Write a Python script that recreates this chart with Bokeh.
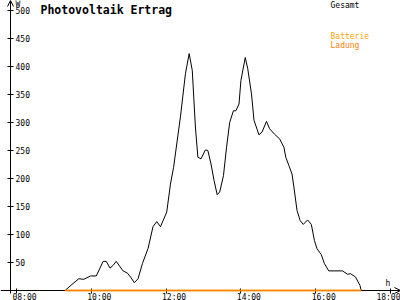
from bokeh.plotting import figure
from bokeh.models import Range1d, LinearAxis, FixedTicker, Arrow, OpenHead, Label
from bokeh.embed import file_html
from bokeh.resources import INLINE

# ---- data ----
times = ["09:18", "09:27", "09:40", "09:48", "09:59", "10:08", "10:19", "10:24", "10:30", "10:35",
         "10:40", "10:51", "10:58", "11:03", "11:09", "11:15", "11:22", "11:31", "11:39", "11:45",
         "11:51", "12:01", "12:07", "12:12", "12:23", "12:31", "12:37", "12:42", "12:47", "12:51",
         "12:56", "13:03", "13:07", "13:12", "13:17", "13:22", "13:26", "13:32", "13:37", "13:42",
         "13:48", "13:52", "13:57", "14:00", "14:07", "14:11", "14:17", "14:21", "14:29", "14:34",
         "14:41", "14:46", "14:54", "15:02", "15:09", "15:12", "15:17", "15:22", "15:25", "15:30",
         "15:35", "15:40", "15:47", "15:53", "15:58", "16:02", "16:09", "16:14", "16:21", "16:43",
         "16:51", "16:56", "17:04", "17:11", "17:13"]
gesamt = [0, 9, 21, 20, 26, 26, 52, 52, 40, 45,
          52, 35, 31, 24, 14, 21, 48, 75, 114, 123,
          114, 140, 190, 220, 310, 387, 423, 393, 292, 238,
          235, 251, 250, 226, 196, 171, 176, 205, 256, 300,
          321, 321, 333, 375, 416, 396, 351, 304, 278, 283,
          302, 289, 279, 271, 256, 238, 223, 208, 185, 143,
          125, 118, 126, 118, 89, 75, 64, 48, 35, 35,
          29, 30, 24, 9, 0]
batt_times = ["09:18", "17:13"]
batterie = [0, 0]
ladung = [0, 0]
x_ticks = [8, 10, 12, 14, 16, 18]
x_tick_labels = ["08:00", "10:00", "12:00", "14:00", "16:00", "18:00"]
y_ticks = [50, 100, 150, 200, 250, 300, 350, 400, 450, 500]


def hours(t):
    h, m = t.split(":")
    return int(h) + int(m) / 60.0


PX_PER_H = 37.4
PX_PER_W = 0.56
X0 = 8 - 16 / PX_PER_H
X1 = 8 + 384 / PX_PER_H
Y1 = 290 / PX_PER_W
Y0 = -10 / PX_PER_W
YAX = X0 + 10 / PX_PER_H
SHIFT = 8 / PX_PER_H

MONO = "DejaVu Sans Mono"

p = figure(width=400, height=300, x_range=Range1d(X0, X1), y_range=Range1d(Y0, Y1),
           toolbar_location=None, output_backend="svg", min_border=0,
           x_axis_location=None, y_axis_location=None, outline_line_color=None,
           background_fill_color="white", border_fill_color="white")
p.xgrid.grid_line_color = None
p.ygrid.grid_line_color = None

# y axis (labels to the right of the line)
yax = LinearAxis(fixed_location=YAX, ticker=FixedTicker(ticks=y_ticks), bounds=(-5.4, Y1),
                 major_tick_in=3, major_tick_out=3, minor_tick_in=0, minor_tick_out=0,
                 major_label_standoff=2, major_label_text_font=MONO,
                 major_label_text_font_size="8px", major_label_text_color="black",
                 axis_line_color="black", major_tick_line_color="black")
p.add_layout(yax, "right")

# x axis line and ticks
xax = LinearAxis(fixed_location=0, ticker=FixedTicker(ticks=x_ticks),
                 major_tick_in=2, major_tick_out=3, minor_tick_in=0, minor_tick_out=0,
                 major_label_text_color=None, axis_line_color="black",
                 major_tick_line_color="black")
p.add_layout(xax, "below")

# x tick labels (shifted like the original)
p.extra_x_ranges = {"lab": Range1d(X0 - SHIFT, X1 - SHIFT)}
xlab = LinearAxis(x_range_name="lab", fixed_location=0, ticker=FixedTicker(ticks=x_ticks),
                  major_label_overrides={t: l for t, l in zip(x_ticks, x_tick_labels)},
                  axis_line_color=None, major_tick_line_color=None, minor_tick_line_color=None,
                  major_tick_in=0, major_tick_out=0, minor_tick_in=0, minor_tick_out=0,
                  major_label_standoff=2, major_label_text_font=MONO,
                  major_label_text_font_size="8px", major_label_text_color="black")
p.add_layout(xlab, "below")

# arrows
p.add_layout(Arrow(end=OpenHead(size=6, line_color="black", line_width=1),
                   x_start=17.8, y_start=0, x_end=X1, y_end=0, line_color="black"))
p.add_layout(Arrow(end=OpenHead(size=6, line_color="black", line_width=1),
                   x_start=YAX, y_start=480, x_end=YAX, y_end=Y1, line_color="black"))

# data lines (drawn above the axes)
p.line([hours(t) for t in times], gesamt, line_color="black", line_width=1, level="overlay")
bt = [hours(t) for t in batt_times]
p.line(bt, batterie, line_color="#FFA500", line_width=1.3, level="overlay")
p.line(bt, ladung, line_color="#FF8000", line_width=1.3, level="overlay")

# texts
def lab(text, x, y, color="black", size="8px", style="normal"):
    p.add_layout(Label(x=x, y=y, x_units="screen", y_units="screen", text=text,
                       text_font=MONO, text_font_size=size, text_font_style=style,
                       text_color=color, text_baseline="top", text_align="left"))

lab("Photovoltaik Ertrag", 40, 298, size="11.5px", style="bold")
lab("W", 15, 301)
lab("h", 385, 22)
lab("Gesamt", 330, 299.5)
lab("Batterie", 330, 268.5, color="#FFA500")
lab("Ladung", 330, 259.5, color="#FF8000")

open("out.html", "w").write(file_html(p, INLINE))
